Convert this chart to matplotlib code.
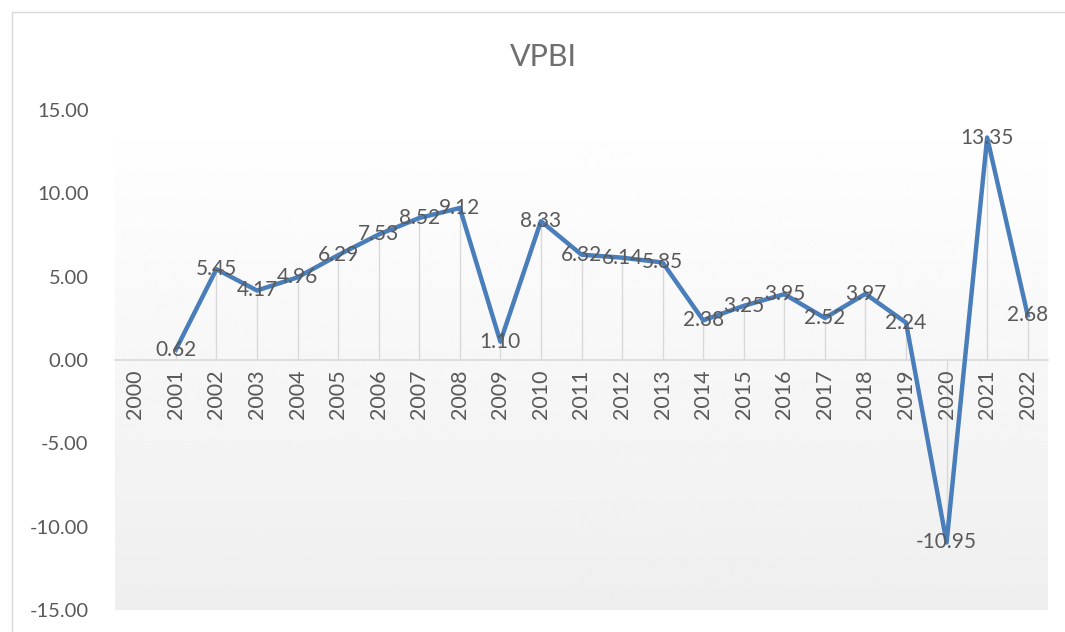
import numpy as np
import matplotlib
matplotlib.use("Agg")
import matplotlib.pyplot as plt
from matplotlib.patches import Rectangle

years = [str(y) for y in range(2000, 2023)]
vpbi = [np.nan, 0.62, 5.45, 4.17, 4.96, 6.29, 7.53, 8.52, 9.12, 1.10, 8.33,
        6.32, 6.14, 5.85, 2.38, 3.25, 3.95, 2.52, 3.97, 2.24, -10.95, 13.35, 2.68]
yticks = [-15, -10, -5, 0, 5, 10, 15]

plt.rcParams['font.family'] = ['Lato', 'DejaVu Sans']
txt = '#595959'

fig = plt.figure(figsize=(10.65, 6.32), dpi=100)
ax = fig.add_axes([115/1065, 22/632, 933/1065, 500/632])

x = np.arange(len(years))
y = np.array(vpbi, dtype=float)

# gradient plot area background
grad = np.linspace(1.0, 0.935, 256).reshape(-1, 1)
ax.imshow(grad, cmap='gray', vmin=0, vmax=1, aspect='auto',
          extent=[-0.5, len(years) - 0.5, -15, 15], zorder=0)

# drop lines
ok = ~np.isnan(y)
ax.vlines(x[ok], 0, y[ok], color='#d9d9d9', lw=1, zorder=1)
ax.plot(x, y, color='#4a7ebb', lw=3.2, zorder=3, solid_joinstyle='round')

for xi, yi in zip(x[ok], y[ok]):
    ax.text(xi, yi, f'{yi:.2f}', ha='center', va='center', fontsize=15,
            color=txt, zorder=4)

ax.set_xlim(-0.5, len(years) - 0.5)
ax.set_ylim(-15, 15)
ax.set_yticks(yticks)
ax.set_yticklabels([f'{v:.2f}' for v in yticks])
ax.set_xticks(x)
ax.set_xticklabels(years)
ax.tick_params(axis='x', length=0, labelsize=15.5, labelcolor=txt, pad=7,
               labelrotation=90)
ax.tick_params(axis='y', length=0, labelsize=14.5, labelcolor=txt, pad=19)

for s in ['top', 'right', 'left']:
    ax.spines[s].set_visible(False)
ax.spines['bottom'].set_position(('data', 0))
ax.spines['bottom'].set_color('#d9d9d9')
ax.spines['bottom'].set_linewidth(1.2)
ax.spines['bottom'].set_zorder(2)

fig.text(543/1065, 1 - 57/632, 'VPBI', ha='center', va='center',
         fontsize=22, color='#6f6f6f')

fig.patches.append(Rectangle((12/1065, -0.1), 1.2, 1 - 12/632 + 0.1,
                             transform=fig.transFigure, fill=False,
                             edgecolor='#d9d9d9', lw=1))

fig.savefig('out.png', dpi=100)
